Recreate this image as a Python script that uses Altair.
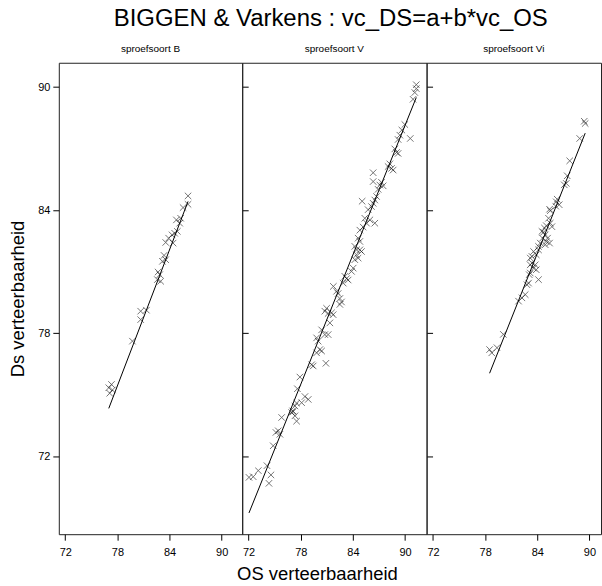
import altair as alt
import pandas as pd

# Digestibility of organic matter (OS) vs dry matter (DS), per sample type
panels = ["sproefsoort B", "sproefsoort V", "sproefsoort Vi"]

b_os = [86.13, 85.56, 86.13, 84.79, 85.28, 85.17, 83.56, 83.90, 84.29, 84.59,
        84.90, 84.41, 83.37, 83.18, 83.56, 82.68, 82.87, 82.60, 82.98, 80.68,
        81.34, 80.68, 79.73, 77.32, 77.01, 77.43, 77.12]
b_ds = [84.70, 84.13, 84.29, 83.53, 83.61, 83.37, 82.43, 82.64, 82.80, 82.88,
        82.97, 82.40, 81.80, 81.51, 81.59, 80.99, 80.86, 80.62, 80.54, 79.08,
        79.13, 78.67, 77.62, 75.51, 75.35, 75.24, 75.08]

v_os = [91.29, 91.29, 91.12, 90.92, 89.97, 89.63, 89.40, 89.20, 90.60, 88.82,
        89.02, 89.20, 88.25, 88.05, 88.44, 88.63, 86.33, 87.29, 87.10, 87.48,
        86.90, 86.33, 86.72, 86.52, 86.33, 85.06, 86.14, 85.75, 85.37, 85.57,
        85.95, 86.52, 85.18, 84.80, 84.60, 84.80, 84.22, 84.42, 84.80, 84.99,
        84.42, 84.60, 84.22, 84.03, 83.84, 83.07, 83.27, 83.45, 82.88, 81.75,
        82.12, 82.30, 82.50, 82.69, 82.50, 80.97, 80.77, 81.15, 81.54, 81.35,
        81.73, 80.40, 80.77, 81.15, 79.82, 80.00, 80.20, 79.82, 80.40, 79.25,
        79.43, 80.89, 77.90, 77.61, 78.48, 78.86, 78.10, 77.52, 77.33, 77.06,
        76.95, 77.13, 77.33, 77.52, 75.80, 75.41, 75.14, 75.60, 74.83, 74.11,
        73.11, 72.53, 72.04, 74.57, 74.34]
v_ds = [90.12, 89.93, 89.74, 89.41, 88.18, 87.91, 87.66, 87.45, 87.50, 86.99,
        86.82, 86.77, 86.26, 86.13, 86.04, 85.96, 85.83, 85.36, 85.23, 85.19,
        85.02, 85.40, 84.67, 84.50, 84.34, 84.44, 84.18, 84.03, 83.61, 83.37,
        83.53, 83.37, 83.18, 83.03, 82.64, 82.48, 82.24, 82.07, 82.07, 81.99,
        81.83, 81.67, 81.59, 81.18, 81.02, 80.78, 80.67, 80.60, 80.45, 80.29,
        80.05, 79.94, 79.70, 79.53, 79.41, 79.22, 79.08, 78.97, 79.00, 78.51,
        78.91, 78.17, 77.94, 77.94, 77.78, 77.62, 77.21, 77.05, 77.14, 76.47,
        76.41, 76.54, 75.87, 75.30, 74.92, 74.78, 74.62, 74.60, 74.46, 74.22,
        74.14, 74.19, 73.98, 73.72, 73.90, 73.25, 73.17, 73.08, 72.52, 71.55,
        71.31, 71.01, 70.98, 71.10, 70.69]

vi_os = [89.40, 89.51, 88.88, 87.73, 87.44, 87.10, 87.33, 86.29, 86.18, 86.52,
         86.12, 85.49, 85.41, 85.29, 85.49, 85.03, 85.68, 84.83, 84.53, 84.72,
         84.91, 85.18, 84.60, 85.03, 85.41, 84.34, 84.91, 84.14, 84.14, 83.57,
         83.88, 83.38, 83.19, 83.38, 83.76, 83.19, 83.57, 83.88, 83.19, 83.07,
         84.14, 82.81, 82.99, 82.61, 82.23, 81.84, 80.09, 79.36, 78.76, 78.51]
vi_ds = [88.34, 88.23, 87.50, 86.41, 85.68, 85.24, 85.31, 84.54, 84.41, 84.27,
         84.20, 83.98, 84.05, 83.61, 83.37, 83.25, 83.20, 83.13, 82.97, 82.93,
         82.80, 82.64, 82.64, 82.48, 82.40, 82.40, 82.32, 82.24, 82.07, 81.99,
         81.83, 81.75, 81.67, 81.43, 81.34, 81.34, 81.18, 81.10, 80.94, 80.86,
         80.62, 80.37, 80.45, 79.89, 79.73, 79.57, 77.95, 77.30, 77.05, 77.21]

# fitted model vc_DS = a + b * vc_OS per sample type
coef_a = [-10.83, -6.54, -7.48]
coef_b = [1.106, 1.052, 1.064]

tick_values = [72, 78, 84, 90]
x_lo = 71.26
px_per_unit = 8.72
y_domain = [68.21, 91.19]
panel_h = 473
panel_w = [184, 185, 175]

FONT = "Liberation Sans"
cross = "M-1,-1L1,1M-1,1L1,-1"


def make_panel(i, os_vals, ds_vals):
    pts = pd.DataFrame({"os": os_vals, "ds": ds_vals})
    lo, hi = min(os_vals), max(os_vals)
    fit = pd.DataFrame({"os": [lo, hi]})
    fit["ds"] = coef_a[i] + coef_b[i] * fit["os"]

    w = panel_w[i]
    xscale = alt.Scale(domain=[x_lo, x_lo + w / px_per_unit], nice=False, zero=False)
    yscale = alt.Scale(domain=y_domain, nice=False, zero=False)

    xaxis_opts = dict(values=tick_values, grid=False, domain=False, tickSize=6,
                      tickColor="black", labelFontSize=11, labelFont=FONT,
                      labelColor="black", labelPadding=6, labelFlush=False,
                      titleFont=FONT, titleFontSize=18.5, titleFontWeight="normal",
                      titleColor="black", titlePadding=7)
    if i == 1:
        xaxis = alt.Axis(titleX=75, titleAlign="center", **xaxis_opts)
        xenc = alt.X("os:Q", scale=xscale, axis=xaxis, title="OS verteerbaarheid")
    else:
        xenc = alt.X("os:Q", scale=xscale, axis=alt.Axis(**xaxis_opts), title=None)

    if i == 0:
        yaxis = alt.Axis(values=tick_values, grid=False, domain=False, tickSize=6,
                         tickColor="black", labelFontSize=11, labelFont=FONT,
                         labelColor="black", labelPadding=3,
                         titleFont=FONT, titleFontSize=18.5, titleFontWeight="normal",
                         titleColor="black", titlePadding=10)
        yenc = alt.Y("ds:Q", scale=yscale, axis=yaxis, title="Ds verteerbaarheid")
    else:
        yenc = alt.Y("ds:Q", scale=yscale, axis=None)

    points = alt.Chart(pts).mark_point(
        shape=cross, size=42, filled=False, color="black",
        strokeWidth=0.9, opacity=0.6
    ).encode(x=xenc, y=yenc)

    if i < 2:
        # short ticks on the shared border with the next panel
        yline = alt.Y("ds:Q", scale=yscale,
                      axis=alt.Axis(orient="right", values=tick_values, labels=False,
                                    grid=False, domain=False, tickSize=6,
                                    tickColor="black"),
                      title=None)
    else:
        yline = alt.Y("ds:Q", scale=yscale, axis=None)

    line = alt.Chart(fit).mark_line(color="black", strokeWidth=1).encode(
        x=alt.X("os:Q", scale=xscale),
        y=yline,
    )

    return alt.layer(points, line).resolve_axis(y="independent").properties(
        width=w, height=panel_h,
        title=alt.TitleParams(panels[i], fontSize=10, font=FONT,
                              fontWeight="normal", color="black", offset=9),
    )


chart = alt.hconcat(
    make_panel(0, b_os, b_ds),
    make_panel(1, v_os, v_ds),
    make_panel(2, vi_os, vi_ds),
    spacing=0,
    bounds="flush",
).properties(
    title=alt.TitleParams("BIGGEN & Varkens : vc_DS=a+b*vc_OS", fontSize=24,
                          font=FONT, fontWeight="normal", color="black",
                          anchor="middle", offset=12, dx=26),
    padding={"left": 8, "top": 6, "right": 0, "bottom": 0},
    background="white",
).configure_view(
    stroke="#222222", strokeWidth=1
)

chart.save("out.html", embed_options={"renderer": "svg", "actions": False})
